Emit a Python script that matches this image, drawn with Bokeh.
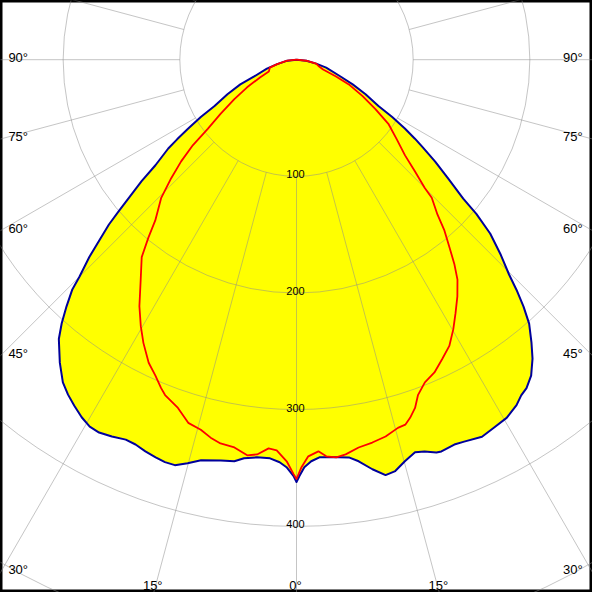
import numpy as np
from bokeh.plotting import figure
from bokeh.models import Range1d
from bokeh.embed import file_html
from bokeh.resources import INLINE
from bokeh.core.properties import value

# ---- data (gamma in degrees, negative = left half; intensity in cd/klm) ----
blue_gamma = [-90, -84, -77, -73.3, -68.4, -66.3, -63.4, -60.5, -59.1, -57.5, -56.3, -55.3,
              -53.2, -51.9, -50.5, -49.6, -48.7, -47.5, -46.4, -45, -44.3, -43, -41.7, -40.4,
              -38, -35.9, -34.3, -32.7, -31, -29.4, -27.9, -26.1, -24.2, -22.7, -21.1, -19.5,
              -18.1, -16.7, -15.1, -13.4, -10.7, -8.8, -7.5, -5.7, -3.8, -2.4, -1.4, -0.4, 0,
              0.4, 1.1, 2.1, 3.3, 4.7, 6.1, 7.5, 8.8, 10.5, 12.1, 13.5, 15.1, 16.8, 18.1, 19.6,
              20.3, 22.3, 23.7, 26.2, 28.2, 30.4, 32.5, 33.8, 35, 36.6, 38.3, 39.7, 41.4, 42.6,
              43.7, 44.7, 46.3, 48.1, 49.4, 50.2, 51.9, 53.7, 55.3, 56.3, 57.6, 59.1, 60.5, 63.4,
              66.3, 69.6, 75.1, 78.7, 84, 90]
blue_cd = [0, 8, 17, 26.5, 39, 52.6, 66.2, 80.7, 95.6, 110.3, 123, 133.7,
           151, 168.7, 186.2, 199.8, 214, 229.3, 245.2, 263.1, 275.1, 289, 302.5, 314.3,
           329.5, 341.5, 347.5, 352.5, 357.5, 361, 361.6, 359.7, 357, 357.5, 359.8, 361.6,
           362.9, 362.8, 358.2, 353, 349.5, 348.3, 344.6, 342.5, 342.4, 345.3, 349.4, 356.9, 362,
           356.9, 349.3, 344.4, 341.4, 341.9, 342.7, 343.8, 348.3, 357, 364.1, 362.6, 356.5, 351.5, 353.3, 357.4,
           358, 356.5, 357.5, 360.1, 357.9, 355.9, 351, 346.2, 343.7, 337.3, 326.4, 315.3, 301.5, 287.5,
           273, 259, 242.3, 223, 203, 186, 165.5, 147.5, 131, 122, 110, 95.6, 80.7, 66.2,
           52.6, 38.8, 26.3, 17.2, 8.5, 0]

red_gamma = [-90, -84, -77, -73.5, -66.8, -64.1, -60.8, -57.6, -54.5, -52.1, -50.5, -48.6,
             -46.6, -44.4, -41.3, -39.8, -38.1, -35.3, -32.5, -30.3, -28.4, -26, -24.1, -22.4,
             -21.4, -18.8, -16.6, -14.5, -12.8, -11.2, -9.1, -7.1, -5.7, -4.1, -2.9, -1.4, -0.4, 0,
             0.7, 1.7, 3.2, 4.3, 5.7, 7.1, 9.1, 11.2, 13.3, 15.4, 16.6, 17.6, 18.8, 19.9, 21.7,
             23.8, 26, 28.1, 30.2, 32.1, 34.2, 36.2, 37.7, 39.2, 40.9, 42.3, 44.4, 45, 46.7, 48.6,
             51.5, 55.1, 58, 61.1, 64.7, 67, 69.7, 73.1, 78.7, 84, 90]
red_cd = [0, 8, 17, 23.8, 25.8, 34.8, 48.5, 63.1, 80, 96.4, 115, 131.8,
          147.8, 165.7, 183.4, 198.2, 215, 231.1, 250.6, 264.5, 275.9, 289, 296.4, 304.5,
          308.7, 315.3, 324.8, 327.6, 332.2, 335.3, 336.6, 341.7, 340, 334, 335.3, 344.3, 355.2, 359.4,
          349.3, 340.1, 336.2, 340.9, 342.5, 340.9, 336.6, 334.5, 331.9, 327.3, 326.4, 322, 315.3, 305.8, 297.6,
          293, 285.2, 278.1, 267.2, 256.5, 245.3, 233.6, 221.2, 207.4, 193.6, 179.6, 165.7, 155.5, 139.4, 124,
          110, 96, 79.8, 64.7, 49.6, 36.8, 24.3, 20.3, 17.2, 8.5, 0]

ring_values = [100, 200, 300, 400, 500]
ring_labels = ["100", "200", "300", "400"]
spoke_angles = list(range(0, 360, 15))
side_angles = [90, 75, 60, 45, 30]
bottom_angles = [-15, 0, 15]

# ---- geometry (chart is 600 ref-px wide, pole at 300,60 ref-px) ----
PX = 1.1825            # ref pixels per cd
W = H = 592
x0, x1 = -300 / PX, 300 / PX
y0, y1 = -540 / PX, 60 / PX
side_dist = 300 / PX
bottom_dist = 540 / PX


def to_xy(g, r):
    g = np.radians(np.asarray(g, dtype=float))
    r = np.asarray(r, dtype=float)
    return r * np.sin(g), -r * np.cos(g)


p = figure(width=W, height=H, x_range=Range1d(x0, x1), y_range=Range1d(y0, y1),
           output_backend="svg", toolbar_location=None,
           x_axis_type=None, y_axis_type=None, min_border=0)
p.background_fill_color = "white"
p.border_fill_color = "white"
p.outline_line_color = "black"
p.outline_line_width = 4

bx, by = to_xy(blue_gamma, blue_cd)
rx, ry = to_xy(red_gamma, red_cd)
p.patch(bx, by, fill_color="#FFFF00", line_color=None)
p.patch(rx, ry, fill_color="#FFFF00", line_color=None)

# grid
grid_color = "#8c8c8c"
p.circle(x=[0] * len(ring_values), y=[0] * len(ring_values), radius=ring_values,
         fill_color=None, line_color=grid_color, line_alpha=0.5, line_width=1)
sa = np.radians(spoke_angles)
p.segment(x0=100 * np.sin(sa), y0=-100 * np.cos(sa), x1=900 * np.sin(sa), y1=-900 * np.cos(sa),
          line_color=grid_color, line_alpha=0.5, line_width=1)

# curves
p.line(bx, by, line_color="#00009C", line_width=2, line_join="round")
p.line(rx, ry, line_color="#FF0000", line_width=1.8, line_join="round")

font = value("Liberation Sans")

# ring labels
p.text(x=[0] * len(ring_labels), y=[-float(v) for v in ring_labels], text=ring_labels,
       text_align="center", text_baseline="alphabetic", y_offset=-2, x_offset=-1,
       text_font=font, text_font_size="11px", text_color="black")

# angle labels on the sides
sides = np.radians(side_angles)
side_y = -side_dist * np.cos(sides) / np.sin(sides) + 2.5 / PX
side_txt = [f"{a}°" for a in side_angles]
p.text(x=[x0 + 8 / PX] * len(side_angles), y=side_y, text=side_txt,
       text_align="left", text_baseline="alphabetic",
       text_font=font, text_font_size="13px", text_color="black")
p.text(x=[x1 - 10 / PX] * len(side_angles), y=side_y, text=side_txt,
       text_align="right", text_baseline="alphabetic",
       text_font=font, text_font_size="13px", text_color="black")

bots = np.radians(bottom_angles)
p.text(x=bottom_dist * np.tan(bots), y=[y0 + 7 / PX] * len(bottom_angles),
       text=[f"{abs(a)}°" for a in bottom_angles],
       text_align="center", text_baseline="alphabetic", x_offset=-1,
       text_font=font, text_font_size="13px", text_color="black")

open("out.html", "w").write(file_html(p, INLINE))
